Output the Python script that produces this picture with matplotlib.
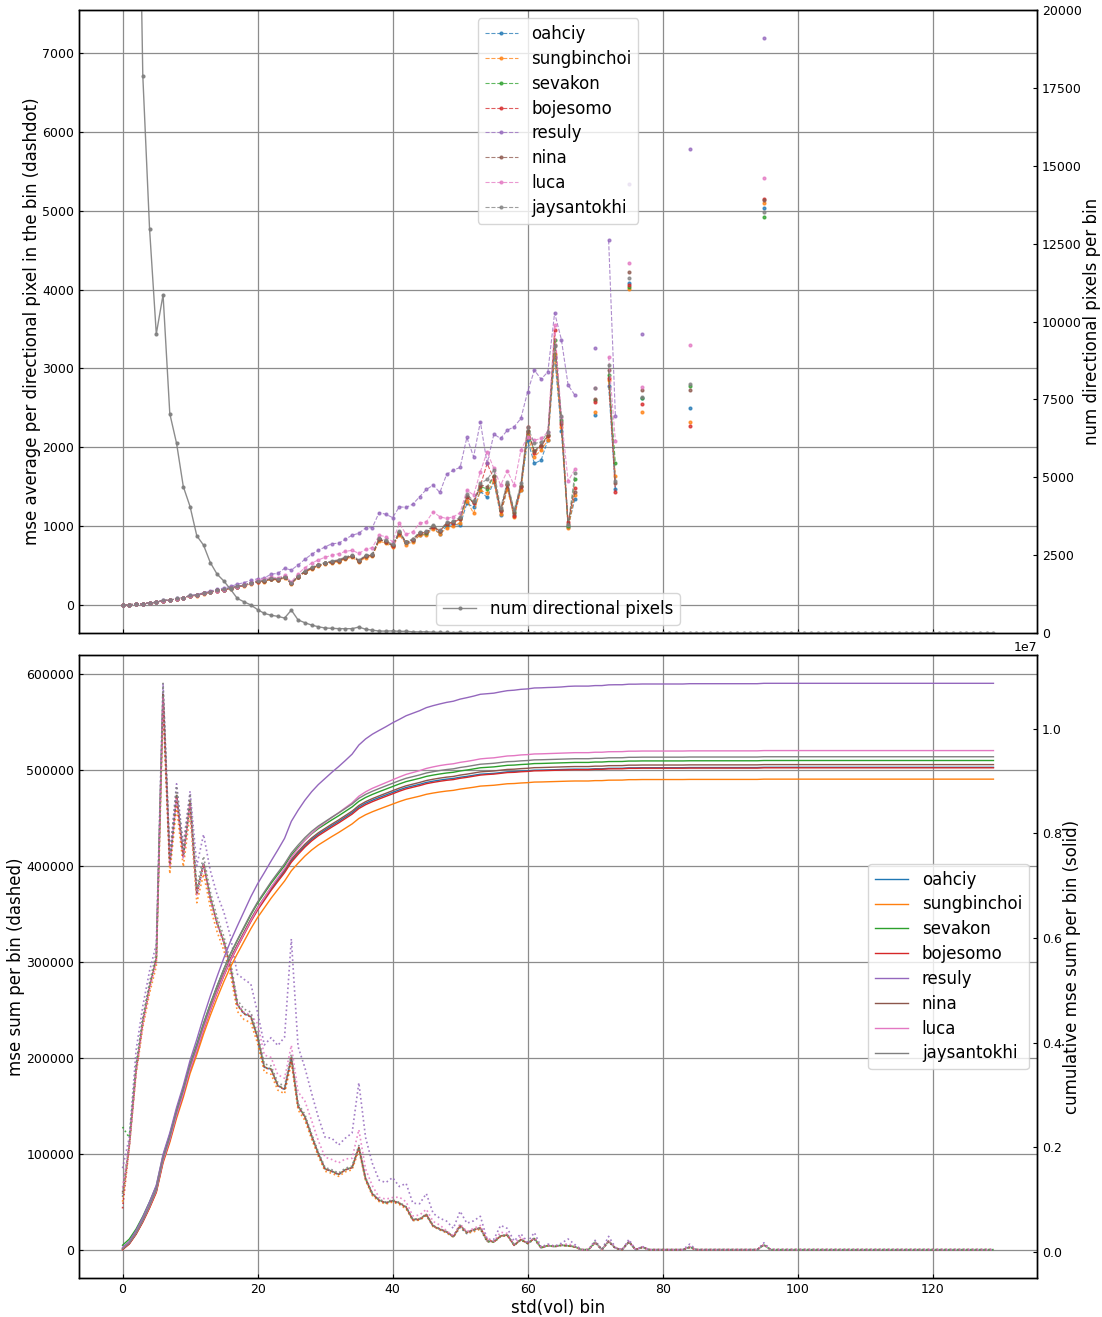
import numpy as np
import matplotlib
matplotlib.use('Agg')
import matplotlib.pyplot as plt

plt.rcParams['font.family'] = ['DejaVu Sans']

models = ['oahciy', 'sungbinchoi', 'sevakon', 'bojesomo', 'resuly', 'nina', 'luca', 'jaysantokhi']
colors = ['#1f77b4', '#ff7f0e', '#2ca02c', '#d62728', '#9467bd', '#8c564b', '#e377c2', '#7f7f7f']

n_bins = 130
std_bins = np.arange(n_bins)
dense_bins = list(range(68))
sparse_bins = [70, 72, 73, 75, 77, 84, 95]

num_pixels_dense = [100000, 60000, 31000, 17890, 12980, 9600, 10860, 7040, 6090, 4700,
                    4060, 3120, 2820, 2260, 1890, 1670, 1400, 1110, 1000, 900,
                    750, 630, 570, 535, 480, 735, 420, 330, 255, 200,
                    160, 150, 140, 140, 138, 192, 120, 92, 62, 61,
                    68, 53, 56, 38, 35, 40, 25, 23, 18, 13,
                    23, 13, 16, 15, 6, 5, 12, 10, 4, 7,
                    3, 6, 1, 2, 1, 2, 4, 2]
num_pixels_sparse = [3, 3, 1, 2, 1, 1, 1]

# mean squared error per directional pixel, bins 0..67
oahciy_avg = [0.55, 1.82, 6.03, 13.3, 21.1, 31.6, 53.3, 57.1, 77.8, 87.2, 114.8, 118.9, 142.6, 162, 180, 192,
              210, 230, 246, 270, 295, 302, 330, 320, 348, 272, 356, 420, 465, 500, 525, 545, 560, 595, 620,
              555, 615, 630, 828, 795, 745,
              900, 780, 805, 880, 900, 975, 900, 1000, 1020, 1010, 1286, 1240, 1440, 1362, 1560, 1138, 1480,
              1140, 1460, 2090, 1793, 1835, 2089, 3150, 2200, 990, 1342]
sungbinchoi_avg = [0.50, 1.78, 5.9, 12.95, 20.6, 30.8, 52.0, 55.7, 75.9, 85.0, 112, 116, 139, 158, 175.5, 187,
                   204.5, 224, 240, 263, 287, 294, 321, 311, 339, 265, 347, 409, 453, 487, 511, 531, 546, 580,
                   604, 541, 599, 614, 809, 780, 731,
                   890, 760, 800, 880, 890, 960, 900, 968, 1000, 1040, 1320, 1160, 1450, 1420, 1570, 1150, 1470,
                   1110, 1450, 2150, 1880, 1960, 2090, 3180, 2250, 970, 1393]
sevakon_avg = [1.28, 1.95, 6.2, 13.5, 21.3, 31.7, 53.4, 57.3, 78.0, 87.5, 115, 119.2, 143, 162.5, 180.5, 192.5,
               210.5, 230.5, 246.5, 270.5, 295.5, 302, 330.5, 320, 349, 272.5, 357, 421, 466, 501, 526, 546, 561,
               596, 621, 556, 617, 632, 832, 802, 752,
               920, 795, 825, 910, 915, 1000, 930, 1030, 1050, 1090, 1370, 1300, 1500, 1470, 1630, 1200, 1530,
               1180, 1510, 2200, 1950, 2020, 2150, 3357, 2350, 1000, 1591]
bojesomo_avg = [0.43, 1.80, 6.0, 13.2, 21.0, 31.5, 53.2, 57.0, 77.7, 87.0, 114.6, 118.7, 142.4, 161.8, 179.8,
                191.8, 209.8, 229.8, 245.8, 269.8, 294.5, 301.4, 329.6, 319.4, 347.8, 271.8, 355.8, 419.5, 464.5,
                499.5, 524.5, 544.5, 559.5, 594.5, 619.5, 554.5, 615, 630, 830, 800, 750,
                915, 790, 820, 905, 920, 985, 935, 1030, 1040, 1090, 1370, 1290, 1510, 1793, 1600, 1190, 1520,
                1125, 1500, 2258, 1930, 2010, 2140, 3484, 2300, 1050, 1477]
resuly_avg = [0.85, 1.95, 6.7, 14.2, 22.4, 33.2, 54.4, 58.3, 79.8, 89.8, 117.8, 128.4, 153.6, 175, 196, 211,
              233, 259, 282, 308, 330, 339, 388, 398, 462, 441, 504, 576, 640, 691, 733, 775, 780, 831, 882,
              907, 975, 979, 1170, 1148, 1106,
              1243, 1235, 1277, 1370, 1463, 1518, 1425, 1654, 1709, 1742, 2123, 1878, 2322, 1793, 2165, 2110,
              2216, 2258, 2364, 2702, 2977, 2863, 2956, 3705, 3366, 2787, 2660]
nina_avg = [0.60, 1.83, 6.05, 13.3, 21.2, 31.7, 53.5, 57.3, 78.0, 87.5, 115.2, 119.3, 143, 162.5, 180.5, 192.5,
            210.6, 230.7, 246.7, 270.8, 295.6, 302.5, 330.8, 320.6, 349, 272.8, 357, 421, 466.5, 501.5, 526.5,
            546.5, 561.5, 596.5, 622, 557, 617, 632, 833, 803, 753,
            920, 790, 830, 915, 920, 995, 935, 1035, 1050, 1100, 1380, 1300, 1520, 1500, 1640, 1200, 1530,
            1170, 1510, 2210, 1950, 2030, 2150, 3300, 2320, 1020, 1435]
luca_avg = [0.65, 1.81, 6.0, 13.17, 21.0, 31.4, 53.0, 56.7, 77.4, 86.7, 114.3, 118.6, 142.4, 161.9, 180.2, 192,
            210.4, 230.7, 247.5, 272.3, 314.6, 322.4, 351.8, 341, 372.4, 290, 392, 470, 529, 568, 603, 627,
            647, 676, 691, 652, 701, 725, 880, 865, 800,
            1034, 892, 926, 1032, 1053, 1180, 1116, 1095, 1116, 1167, 1455, 1391, 1687, 1941, 1730, 1518, 1700,
            1518, 1962, 2131, 2089, 2110, 2195, 3548, 2385, 1570, 1718]
jaysantokhi_avg = [0.58, 1.85, 6.12, 13.5, 21.5, 32.2, 54.4, 58.2, 79.4, 88.9, 117.1, 121.3, 145.5, 165.2, 183.6,
                   195.8, 214.2, 234.6, 250.9, 275.4, 300.6, 307.6, 336.4, 326, 355, 277.4, 363, 428, 474, 510,
                   535.5, 556, 571, 607, 632, 566, 627, 643, 846, 816, 765,
                   930, 800, 835, 925, 930, 1010, 945, 1045, 1060, 1110, 1400, 1320, 1540, 1590, 1710, 1230,
                   1560, 1200, 1540, 2258, 2050, 2060, 2195, 3280, 2400, 1010, 1668]

# values at the sparse bins 70, 72, 73, 75, 77, 84, 95
oahciy_avg_sparse = [2407, 2778, 1465, 4089, 2630, 2491, 5039]
sungbinchoi_avg_sparse = [2441, 2850, 1634, 4012, 2441, 2322, 5098]
sevakon_avg_sparse = [2600, 2922, 1794, 4038, 2618, 2779, 4921]
bojesomo_avg_sparse = [2567, 2884, 1435, 4063, 2546, 2272, 5145]
resuly_avg_sparse = [3265, 4625, 2398, 5340, 3438, 5780, 7190]
nina_avg_sparse = [2606, 2977, 1540, 4219, 2732, 2724, 5132]
luca_avg_sparse = [2745, 3146, 2077, 4338, 2758, 3298, 5415]
jaysantokhi_avg_sparse = [2745, 3049, 1570, 4152, 2631, 2808, 4980]

avg_dense = [oahciy_avg, sungbinchoi_avg, sevakon_avg, bojesomo_avg, resuly_avg, nina_avg, luca_avg,
             jaysantokhi_avg]
avg_sparse = [oahciy_avg_sparse, sungbinchoi_avg_sparse, sevakon_avg_sparse, bojesomo_avg_sparse,
              resuly_avg_sparse, nina_avg_sparse, luca_avg_sparse, jaysantokhi_avg_sparse]


def full(dense, sparse, fill):
    a = np.full(n_bins, fill, dtype=float)
    a[dense_bins] = dense
    a[sparse_bins] = sparse
    return a


num_pixels = full(num_pixels_dense, num_pixels_sparse, 0.0)

fig = plt.figure(figsize=(11.02, 13.17), dpi=100)
L = 79 / 1102
W = (1037 - 79) / 1102
H = 623 / 1317
ax1 = fig.add_axes([L, 1 - 633 / 1317, W, H])
ax3 = fig.add_axes([L, 1 - 1278 / 1317, W, H], sharex=ax1)
ax2 = ax1.twinx()
ax4 = ax3.twinx()

for name, col, dn, sp in zip(models, colors, avg_dense, avg_sparse):
    avg = full(dn, sp, np.nan)
    mse_sum = np.nan_to_num(avg * num_pixels)
    cum = np.cumsum(mse_sum)
    ax1.plot(std_bins, avg, '.--', color=col, lw=0.8, ms=4, alpha=0.75, label=name)
    ax3.plot(std_bins, mse_sum, ':', color=col, lw=1.2, alpha=0.85)
    ax4.plot(std_bins, cum, '-', color=col, lw=1.0, label=name)

ax2.plot(std_bins, num_pixels, '.-', color='gray', lw=1.0, ms=4, alpha=0.9, label='num directional pixels')
ax2.set_ylim(0, 20000)

ax1.set_ylabel('mse average per directional pixel in the bin (dashdot)', fontsize=12, labelpad=1)
ax2.set_ylabel('num directional pixels per bin', fontsize=12, labelpad=1)
ax3.set_ylabel('mse sum per bin (dashed)', fontsize=12, labelpad=1)
ax4.set_ylabel('cumulative mse sum per bin (solid)', fontsize=12, labelpad=1)
ax3.set_xlabel('std(vol) bin', fontsize=12, labelpad=2)

for ax in (ax1, ax2, ax3, ax4):
    ax.tick_params(direction='in', labelsize=9, length=3)
    for s in ax.spines.values():
        s.set_linewidth(1.0)
        s.set_color('black')
ax1.tick_params(labelbottom=False)
ax4.yaxis.get_offset_text().set_fontsize(9)

for ax in (ax1, ax3):
    ax.grid(True, color='#8c8c8c', lw=0.9)
    ax.set_axisbelow(True)

ax1.legend(loc='upper center', fontsize=12, labelspacing=0.41)
ax2.legend(loc='lower center', fontsize=12)
ax4.legend(loc='center right', fontsize=12, labelspacing=0.41)

fig.savefig('out.png', dpi=100)
